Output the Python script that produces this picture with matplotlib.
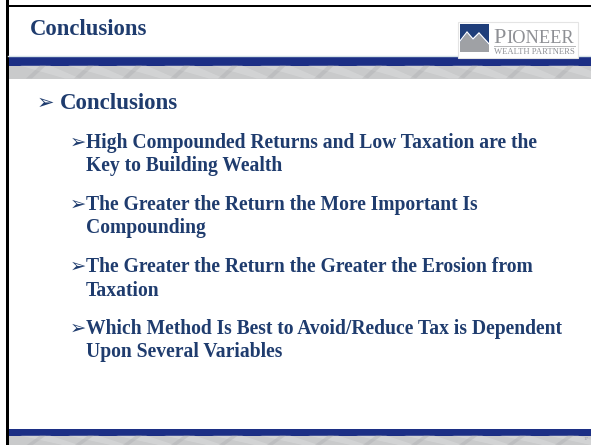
import matplotlib.pyplot as plt
from matplotlib.patches import Rectangle, Polygon

# slide content
title = "Conclusions"
heading = "Conclusions"
points = [
    ["High Compounded Returns and Low Taxation are the", "Key to Building Wealth"],
    ["The Greater the Return the More Important Is", "Compounding"],
    ["The Greater the Return the Greater the Erosion from", "Taxation"],
    ["Which Method Is Best to Avoid/Reduce Tax is Dependent", "Upon Several Variables"],
]
page_no = "17"

navy = "#1F3C6E"
band_blue = "#1C2F85"
band_grey = "#C9CACB"
serif = ["Liberation Serif", "DejaVu Serif"]

fig = plt.figure(figsize=(5.91, 4.45), dpi=100)
ax = fig.add_axes([0, 0, 1, 1])
ax.set_xlim(0, 591)
ax.set_ylim(445, 0)
ax.axis("off")

# frame lines
ax.add_patch(Rectangle((6, 0), 2.5, 445, color="black", lw=0))
ax.add_patch(Rectangle((6, 4.5), 585, 2.5, color="black", lw=0))

# header separator and bands
ax.plot([8, 591], [55.5, 55.5], color="#D5E3E8", lw=1)
def band(y0, h_blue, h_grey):
    ax.add_patch(Rectangle((8.5, y0), 583, h_blue, color=band_blue, lw=0))
    ax.add_patch(Rectangle((8.5, y0 + h_blue), 583, h_grey, color=band_grey, lw=0))
    # faint structural streaks in the grey strip
    for x in range(20, 591, 48):
        ax.add_patch(Polygon([(x, y0 + h_blue), (x + 30, y0 + h_blue),
                              (x + 60, y0 + h_blue + h_grey), (x + 45, y0 + h_blue + h_grey)],
                             closed=True, color="#E2E3E4", lw=0, alpha=0.4))
        ax.add_patch(Polygon([(x + 20, y0 + h_blue), (x + 26, y0 + h_blue),
                              (x + 12, y0 + h_blue + h_grey), (x + 6, y0 + h_blue + h_grey)],
                             closed=True, color="#A9AAAC", lw=0, alpha=0.35))

band(57, 8.5, 13)
band(429, 6.5, 10)

# logo
ax.add_patch(Rectangle((458, 22), 120, 36, facecolor="white", edgecolor="#E4E4E4", lw=0.8, zorder=3))
ax.add_patch(Rectangle((460, 24), 29, 28, color="#1F3E7A", lw=0, zorder=4))
ax.add_patch(Polygon([(460, 52), (460, 42), (467, 33), (473, 40), (479, 34), (489, 45), (489, 52)],
                     closed=True, color="#9FA1A5", lw=0, zorder=5))
ax.add_patch(Polygon([(460, 42), (467, 33), (473, 40), (479, 34), (489, 45), (489, 43),
                      (479, 32), (473, 38), (467, 31), (460, 40)],
                     closed=True, color="white", lw=0, zorder=5))
ax.text(493, 43, "P", color="#8E9095", fontsize=16, family=serif, zorder=6)
ax.text(506, 43, "IONEER", color="#8E9095", fontsize=13.2, family=serif, zorder=6)
ax.plot([494, 575], [46, 46], color="#B5B6B8", lw=0.7, zorder=6)
ax.text(494, 53.5, "WEALTH PARTNERS", color="#8E9095", fontsize=6.2, family=serif, zorder=6)

# title
ax.text(30, 35, title, color=navy, fontsize=16.3, fontweight="bold", family=serif)

# level 1
ax.text(37, 109, "\u27a2", color=navy, fontsize=15, fontweight="bold", family="DejaVu Sans")
ax.text(60, 109, heading, color=navy, fontsize=16.5, fontweight="bold", family=serif)

# level 2
y = 148
for lines in points:
    ax.text(70, y, "\u27a2", color=navy, fontsize=14, fontweight="bold", family="DejaVu Sans")
    for i, line in enumerate(lines):
        ax.text(86, y + i * 23.5, line, color=navy, fontsize=14.1, fontweight="bold", family=serif)
    y += 62

ax.text(584, 440, page_no, color="#9A9AA8", fontsize=3.5, family=serif)

fig.savefig("out.png", dpi=100)
